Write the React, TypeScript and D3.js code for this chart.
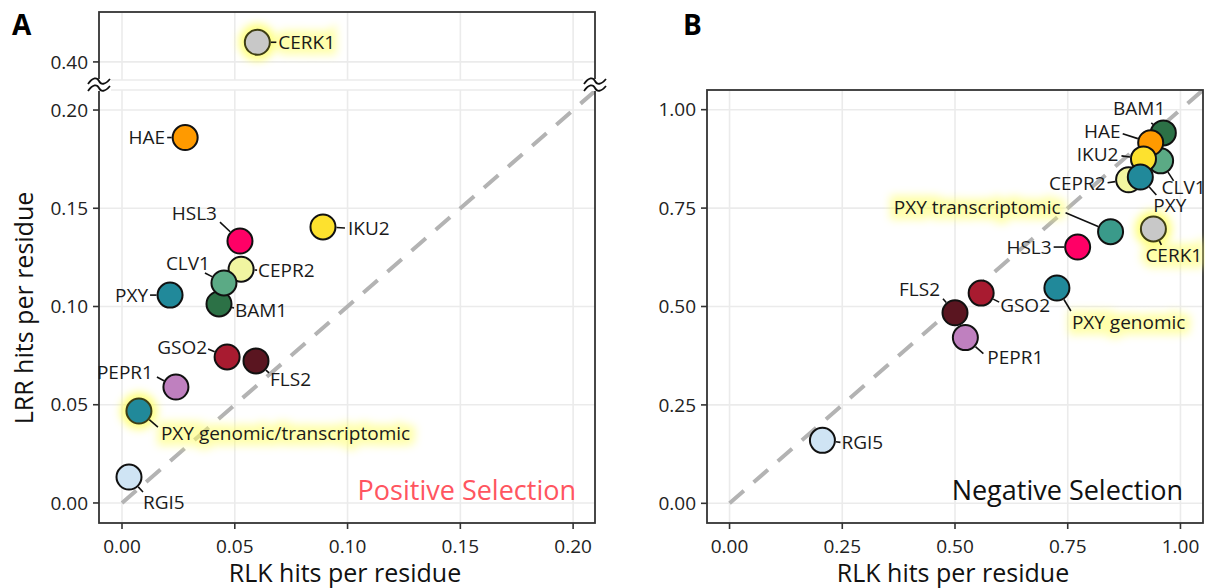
import React from "react";
import * as d3 from "d3";

// ---------- data ----------
const genesA = ["CERK1", "HAE", "HSL3", "IKU2", "CEPR2", "BAM1", "CLV1", "PXY", "GSO2", "FLS2", "PEPR1", "PXY genomic/transcriptomic", "RGI5"];
const rlkA = [0.060, 0.028, 0.0523, 0.0891, 0.0528, 0.043, 0.0452, 0.0213, 0.0466, 0.0594, 0.0239, 0.0075, 0.0031];
const lrrA = [0.41, 0.186, 0.1333, 0.1405, 0.119, 0.1013, 0.112, 0.1058, 0.0743, 0.0723, 0.059, 0.0468, 0.0132];
const colorsA = ["#C8C8C8", "#FF9A00", "#FF0066", "#FDE12E", "#F1F5A1", "#2C7146", "#5BAA85", "#21899A", "#A81B30", "#5A1520", "#BF80BF", "#21899A", "#CFE4F4"];

const genesB = ["BAM1", "CLV1", "HAE", "IKU2", "CEPR2", "PXY", "PXY transcriptomic", "CERK1", "HSL3", "PXY genomic", "GSO2", "FLS2", "PEPR1", "RGI5"];
const rlkB = [0.962, 0.956, 0.934, 0.918, 0.885, 0.911, 0.845, 0.940, 0.772, 0.726, 0.558, 0.500, 0.523, 0.206];
const lrrB = [0.941, 0.870, 0.916, 0.875, 0.822, 0.829, 0.690, 0.697, 0.651, 0.547, 0.534, 0.484, 0.421, 0.160];
const colorsB = ["#2C7146", "#5BAA85", "#FF9A00", "#FDE12E", "#F1F5A1", "#21899A", "#3A9A8A", "#C8C8C8", "#FF0066", "#21899A", "#A81B30", "#5A1520", "#BF80BF", "#CFE4F4"];

const ticksA = [0, 0.05, 0.1, 0.15, 0.2];
const ticksAUpper = [0.4];
const ticksB = [0, 0.25, 0.5, 0.75, 1];

// highlight flags
const glowPointA = [true, false, false, false, false, false, false, false, false, false, false, true, false];
const glowLabelA = [true, false, false, false, false, false, false, false, false, false, false, true, false];
const glowPointB = [false, false, false, false, false, false, false, true, false, false, false, false, false, false];
const glowLabelB = [false, false, false, false, false, false, true, true, false, true, false, false, false, false];

// label layout (pixel offsets relative to point): text anchor point, anchor, leader end
const labTxA = [21, -20, -23, 25, 17, 16, -14, -22, -20, 14, -23, 22, 14];
const labTyA = [0, 0, -28, 1, 1, 6, -20, 0, -10, 18, -15, 22, 25];
const labAnA = ["start", "end", "end", "start", "start", "start", "end", "end", "end", "start", "end", "start", "start"];
const labLxA = [19, -18, -20, 22, 16, 15, -19, -20, -19, 13, -19, 19, 14];
const labLyA = [0, 0, -19, 1, 1, 4, -10, 0, -8, 12, -10, 16, 15];

const labTxB = [2, 1, -30, -25, -23, 13, -50, -8, -26, 15, 19, -15, 22, 19];
const labTyB = [-25, 26, -11, -5, 4, 28, -24, 26, 0, 34, 12, -23, 20, 2];
const labAnB = ["end", "start", "end", "end", "end", "start", "end", "start", "end", "start", "start", "end", "start", "start"];
const labLxB = [-12, 13, -28, -22, -21, 16, -45, 8, -24, 14, 18, -12, 18, 18];
const labLyB = [-10, 20, -9, -3, 3, 18, -19, 16, 0, 23, 9, -14, 16, 2];

// ---------- layout ----------
const W = 1205, H = 588;
const FONT = "'Open Sans', 'Noto Sans', sans-serif";
const R = 13.5;
const LABEL_FS = 19;

const xA = d3.scaleLinear().domain([-0.0102, 0.2097]).range([99, 595]);
const yA = d3.scaleLinear().domain([-0.0102, 0.2102]).range([523, 90]);
const yAU = d3.scaleLinear().domain([0.3908, 0.4254]).range([80, 12]);
const xB = d3.scaleLinear().domain([-0.05, 1.05]).range([707, 1203]);
const yB = d3.scaleLinear().domain([-0.05, 1.05]).range([523, 90]);

const fmt = d3.format(".2f");
const GRID = "#EBEBEB";
const FRAME = "#333333";

function Points(props: any) {
  const { genes, xs, ys, colors, gp, gl, tx, ty, an, lx, ly, xS, yS, ySU } = props;
  const pos = genes.map((g: string, i: number) => {
    const useU = ySU && ys[i] > 0.3;
    return [xS(xs[i]), useU ? ySU(ys[i]) : yS(ys[i])];
  });
  return (
    <g>
      {genes.map((g: string, i: number) =>
        gp[i] ? (
          <circle key={"gp" + i} cx={pos[i][0]} cy={pos[i][1]} r={R + 5} fill="#FFFF55" opacity={0.75} filter="url(#blur)" />
        ) : null
      )}
      {genes.map((g: string, i: number) =>
        gl[i] ? (
          <text key={"gl" + i} x={pos[i][0] + tx[i]} y={pos[i][1] + ty[i]} dy="0.35em" textAnchor={an[i]}
            fontSize={LABEL_FS} fontFamily={FONT} fill="#FFFF66" stroke="#FFFF66" strokeWidth={11} opacity={0.55} filter="url(#blur)">{g}</text>
        ) : null
      )}
      {genes.map((g: string, i: number) => {
        const d = Math.hypot(lx[i], ly[i]);
        if (d <= R + 1) return null;
        const ux = lx[i] / d, uy = ly[i] / d;
        return (
          <line key={"ld" + i} x1={pos[i][0] + ux * R} y1={pos[i][1] + uy * R} x2={pos[i][0] + lx[i]} y2={pos[i][1] + ly[i]}
            stroke="#111" strokeWidth={1.6} />
        );
      })}
      {genes.map((g: string, i: number) => (
        <text key={"lb" + i} x={pos[i][0] + tx[i]} y={pos[i][1] + ty[i]} dy="0.35em" textAnchor={an[i]}
          fontSize={LABEL_FS} fontFamily={FONT} fill="#1a1a1a">{g}</text>
      ))}
      {genes.map((g: string, i: number) => (
        <circle key={"pt" + i} cx={pos[i][0]} cy={pos[i][1]} r={R - 1} fill={colors[i]}
          stroke={gp[i] ? "#3e3e14" : "#111"} strokeWidth={2} />
      ))}
    </g>
  );
}

function BreakMark(props: any) {
  const { x, y } = props;
  const p = "M -11 2 C -6 -5, -2 -5, 0 -1 S 6 3, 11 -3";
  return (
    <g transform={`translate(${x},${y})`}>
      <rect x={-12} y={-6} width={24} height={12} fill="white" />
      <path d={p} transform="translate(0,-3)" fill="none" stroke="#111" strokeWidth={1.8} />
      <path d={p} transform="translate(0,4)" fill="none" stroke="#111" strokeWidth={1.8} />
    </g>
  );
}

export default function App() {
  const [xa0, xa1] = xA.range();
  const [xb0, xb1] = xB.range();
  return (
    <svg width={W} height={H} style={{ position: "absolute", left: 0, top: 0, background: "white" }} fontFamily={FONT}>
      <defs>
        <filter id="blur" x="-50%" y="-50%" width="200%" height="200%">
          <feGaussianBlur stdDeviation={4} />
        </filter>
        <clipPath id="clipA"><rect x={xa0} y={90} width={xa1 - xa0} height={433} /></clipPath>
        <clipPath id="clipB"><rect x={xb0} y={90} width={xb1 - xb0} height={433} /></clipPath>
      </defs>
      <rect width={W} height={H} fill="white" />

      {/* ===== Panel A ===== */}
      {ticksAUpper.map((t) => (
        <line key={"gau" + t} x1={xa0} x2={xa1} y1={yAU(t)} y2={yAU(t)} stroke={GRID} strokeWidth={1.6} />
      ))}
      {ticksA.map((t) => (
        <line key={"gavu" + t} x1={xA(t)} x2={xA(t)} y1={12} y2={80} stroke={GRID} strokeWidth={1.6} />
      ))}
      <line x1={xa0} x2={xa1} y1={80} y2={80} stroke={GRID} strokeWidth={1.6} />
      {ticksA.map((t) => (
        <line key={"gah" + t} x1={xa0} x2={xa1} y1={yA(t)} y2={yA(t)} stroke={GRID} strokeWidth={1.6} />
      ))}
      {ticksA.map((t) => (
        <line key={"gav" + t} x1={xA(t)} x2={xA(t)} y1={90} y2={523} stroke={GRID} strokeWidth={1.6} />
      ))}
      <line x1={xa0} x2={xa1} y1={90} y2={90} stroke={GRID} strokeWidth={1.6} />
      <g clipPath="url(#clipA)">
        <line x1={xA(0)} y1={yA(0)} x2={xA(0.25)} y2={yA(0.25)} stroke="#B3B3B3" strokeWidth={4} strokeDasharray="19 13" />
      </g>
      <rect x={xa0} y={12} width={xa1 - xa0} height={523 - 12} fill="none" stroke={FRAME} strokeWidth={1.8} />
      <BreakMark x={xa0} y={85} />
      <BreakMark x={xa1} y={85} />

      {ticksA.map((t) => (
        <g key={"axa" + t}>
          <line x1={xA(t)} x2={xA(t)} y1={523} y2={529} stroke={FRAME} strokeWidth={1.6} />
          <text x={xA(t)} y={546} dy="0.35em" textAnchor="middle" fontSize={19} fill="#222">{fmt(t)}</text>
          <line x1={93} x2={99} y1={yA(t)} y2={yA(t)} stroke={FRAME} strokeWidth={1.6} />
          <text x={88} y={yA(t)} dy="0.35em" textAnchor="end" fontSize={19} fill="#222">{fmt(t)}</text>
        </g>
      ))}
      {ticksAUpper.map((t) => (
        <g key={"axau" + t}>
          <line x1={93} x2={99} y1={yAU(t)} y2={yAU(t)} stroke={FRAME} strokeWidth={1.6} />
          <text x={88} y={yAU(t)} dy="0.35em" textAnchor="end" fontSize={19} fill="#222">{fmt(t)}</text>
        </g>
      ))}
      <text x={(xa0 + xa1) / 2 - 2} y={582} textAnchor="middle" fontSize={25} fill="#111">RLK hits per residue</text>
      <text transform={`translate(33,308) rotate(-90)`} textAnchor="middle" fontSize={25} fill="#111">LRR hits per residue</text>
      <text x={12} y={35} fontSize={28} fontWeight="bold" fill="#000">A</text>
      <text x={576} y={500} textAnchor="end" fontSize={27} fill="#FF5560">Positive Selection</text>

      <Points genes={genesA} xs={rlkA} ys={lrrA} colors={colorsA} gp={glowPointA} gl={glowLabelA}
        tx={labTxA} ty={labTyA} an={labAnA} lx={labLxA} ly={labLyA} xS={xA} yS={yA} ySU={yAU} />

      {/* ===== Panel B ===== */}
      {ticksB.map((t) => (
        <g key={"gb" + t}>
          <line x1={xb0} x2={xb1} y1={yB(t)} y2={yB(t)} stroke={GRID} strokeWidth={1.6} />
          <line x1={xB(t)} x2={xB(t)} y1={90} y2={523} stroke={GRID} strokeWidth={1.6} />
        </g>
      ))}
      <g clipPath="url(#clipB)">
        <line x1={xB(0)} y1={yB(0)} x2={xB(1.1)} y2={yB(1.1)} stroke="#B3B3B3" strokeWidth={4} strokeDasharray="19 13" />
      </g>
      <rect x={xb0} y={90} width={xb1 - xb0} height={433} fill="none" stroke={FRAME} strokeWidth={1.8} />
      {ticksB.map((t) => (
        <g key={"axb" + t}>
          <line x1={xB(t)} x2={xB(t)} y1={523} y2={529} stroke={FRAME} strokeWidth={1.6} />
          <text x={xB(t)} y={546} dy="0.35em" textAnchor="middle" fontSize={19} fill="#222">{fmt(t)}</text>
          <line x1={xb0 - 6} x2={xb0} y1={yB(t)} y2={yB(t)} stroke={FRAME} strokeWidth={1.6} />
          <text x={xb0 - 11} y={yB(t)} dy="0.35em" textAnchor="end" fontSize={19} fill="#222">{fmt(t)}</text>
        </g>
      ))}
      <text x={(xb0 + xb1) / 2 - 2} y={582} textAnchor="middle" fontSize={25} fill="#111">RLK hits per residue</text>
      <text x={683} y={35} fontSize={28} fontWeight="bold" fill="#000">B</text>
      <text x={1183} y={500} textAnchor="end" fontSize={27} fill="#111">Negative Selection</text>

      <Points genes={genesB} xs={rlkB} ys={lrrB} colors={colorsB} gp={glowPointB} gl={glowLabelB}
        tx={labTxB} ty={labTyB} an={labAnB} lx={labLxB} ly={labLyB} xS={xB} yS={yB} />
    </svg>
  );
}
